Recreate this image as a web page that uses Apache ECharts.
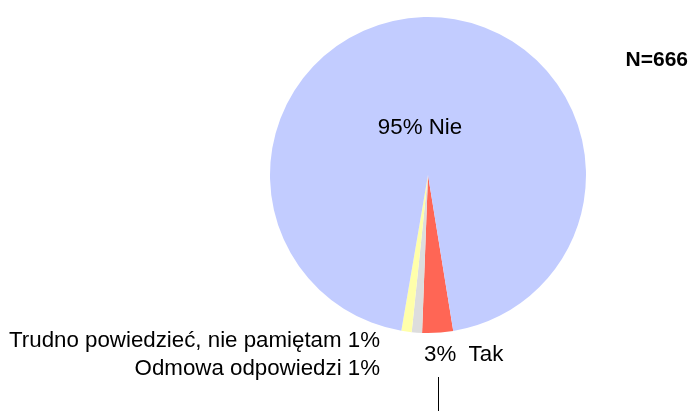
<!DOCTYPE html>
<html>
<head>
<meta charset="utf-8">
<script src="https://cdn.jsdelivr.net/npm/echarts@6/dist/echarts.min.js"></script>
<style>html,body{margin:0;padding:0;background:#fff}#c{width:691px;height:411px}</style>
</head>
<body>
<div id="c"></div>
<script>
var categories = ['Tak', 'Odmowa odpowiedzi', 'Trudno powiedzieć, nie pamiętam', 'Nie'];
var counts = [21, 7, 7, 631];
var percentLabels = ['3%', '1%', '1%', '95%'];
var colors = ['#FF6655', '#DDDDDD', '#FFFFAA', '#C2CCFF'];
var sampleLabel = 'N=666';

var labelTexts = [
  percentLabels[0] + '  ' + categories[0],
  categories[1] + ' ' + percentLabels[1],
  categories[2] + ' ' + percentLabels[2],
  percentLabels[3] + ' ' + categories[3]
];
var labelPos = [
  {x: 424, y: 355, align: 'left'},
  {x: 380, y: 369, align: 'right'},
  {x: 380, y: 341, align: 'right'},
  {x: 420, y: 128, align: 'center'}
];
var FONT = 'Liberation Sans, Arial, sans-serif';

var chart = echarts.init(document.getElementById('c'), null, {renderer: 'canvas'});
chart.setOption({
  animation: false,
  backgroundColor: '#ffffff',
  textStyle: {fontFamily: FONT},
  graphic: [
    {type: 'text', right: 3, top: 50, style: {text: sampleLabel, fontSize: 21, fontWeight: 'bold', fontFamily: FONT, fill: '#000'}},
    {type: 'line', shape: {x1: 438.5, y1: 377, x2: 438.5, y2: 411}, style: {stroke: '#000', lineWidth: 1}}
  ],
  series: [{
    type: 'pie',
    center: [428, 175],
    radius: [0, 158],
    startAngle: 90 - 170.8,
    clockwise: true,
    avoidLabelOverlap: false,
    minAngle: 0,
    itemStyle: {borderWidth: 0},
    emphasis: {disabled: true},
    labelLine: {show: false},
    label: {
      show: true,
      position: 'outside',
      color: '#000',
      fontSize: 22.3,
      fontFamily: FONT,
      formatter: function (p) { return labelTexts[p.dataIndex]; }
    },
    labelLayout: function (p) {
      var lp = labelPos[p.dataIndex];
      return {x: lp.x, y: lp.y, align: lp.align, verticalAlign: 'middle', hideOverlap: false};
    },
    data: categories.map(function (c, i) {
      return {name: c, value: counts[i], itemStyle: {color: colors[i]}};
    })
  }]
});
</script>
</body>
</html>
